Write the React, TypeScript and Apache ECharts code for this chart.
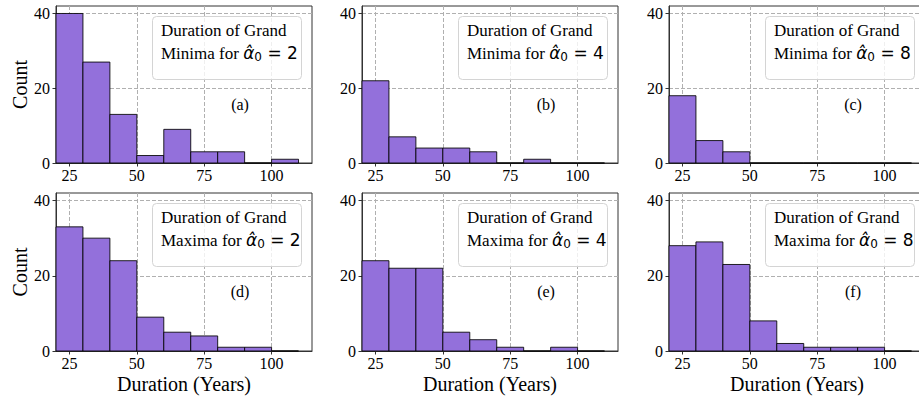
import React, { useEffect, useRef } from 'react';
import * as echarts from 'echarts';

// ---- data ----
const binEdges = [20, 30, 40, 50, 60, 70, 80, 90, 100, 110];
const minimaAlpha2 = [40, 27, 13, 2, 9, 3, 3, 0, 1];
const minimaAlpha4 = [22, 7, 4, 4, 3, 0, 1, 0, 0];
const minimaAlpha8 = [18, 6, 3, 0, 0, 0, 0, 0, 0];
const maximaAlpha2 = [33, 30, 24, 9, 5, 4, 1, 1, 0];
const maximaAlpha4 = [24, 22, 22, 5, 3, 1, 0, 1, 0];
const maximaAlpha8 = [28, 29, 23, 8, 2, 1, 1, 1, 0];
const panelCounts = [minimaAlpha2, minimaAlpha4, minimaAlpha8, maximaAlpha2, maximaAlpha4, maximaAlpha8];
const panelKinds = ['Minima', 'Minima', 'Minima', 'Maxima', 'Maxima', 'Maxima'];
const alphaValues = ['2', '4', '8', '2', '4', '8'];
const panelTags = ['(a)', '(b)', '(c)', '(d)', '(e)', '(f)'];
const titleLine1 = 'Duration of Grand';
const xTicks = [25, 50, 75, 100];
const yTicks = [0, 20, 40];
const xAxisName = 'Duration (Years)';
const yAxisName = 'Count';

// ---- layout ----
const LEFTS = [56, 362, 669];
const TOPS = [6, 193];
const HEIGHTS = [157, 158];
const WIDTH = 256;
const SERIF = "'Liberation Serif', 'Times New Roman', 'DejaVu Serif', serif";
const SANS = "'DejaVu Sans', sans-serif";
const AXIS_COLOR = '#333333';

export default function App() {
  const ref = useRef<HTMLDivElement>(null);

  useEffect(() => {
    if (!ref.current) return;
    const chart = echarts.init(ref.current, undefined, { renderer: 'svg' });

    const grids: any[] = [];
    const xAxes: any[] = [];
    const yAxes: any[] = [];
    const series: any[] = [];
    const graphics: any[] = [];

    for (let i = 0; i < 6; i++) {
      const row = Math.floor(i / 3);
      const col = i % 3;
      const L = LEFTS[col];
      const T = TOPS[row];
      const H = HEIGHTS[row];
      grids.push({
        left: L, top: T, width: WIDTH, height: H,
        show: true, borderColor: AXIS_COLOR, borderWidth: 1, backgroundColor: 'transparent',
      });
      xAxes.push({
        gridIndex: i, type: 'value', min: 20, max: 115,
        axisLine: { show: true, onZero: false, lineStyle: { color: AXIS_COLOR, width: 1 } },
        axisTick: { show: true, customValues: xTicks, length: 3.5, lineStyle: { color: AXIS_COLOR } },
        axisLabel: { show: true, customValues: xTicks, fontFamily: SERIF, fontSize: 16, color: '#000', margin: 4 },
        splitLine: { show: true, lineStyle: { color: '#b0b0b0', type: [4, 2], width: 1 } },
        name: row === 1 ? xAxisName : '',
        nameLocation: 'middle', nameGap: 23,
        nameTextStyle: { fontFamily: SERIF, fontSize: 20, color: '#000' },
      });
      yAxes.push({
        gridIndex: i, type: 'value', min: 0, max: 42,
        axisLine: { show: true, lineStyle: { color: AXIS_COLOR, width: 1 } },
        axisTick: { show: true, customValues: yTicks, length: 3.5, lineStyle: { color: AXIS_COLOR } },
        axisLabel: { show: true, customValues: yTicks, fontFamily: SERIF, fontSize: 16, color: '#000', margin: 6 },
        splitLine: { show: true, lineStyle: { color: '#b0b0b0', type: [4, 2], width: 1 } },
        name: col === 0 ? yAxisName : '',
        nameLocation: 'middle', nameGap: 25, nameRotate: 90,
        nameTextStyle: { fontFamily: SERIF, fontSize: 20, color: '#000' },
      });
      const counts = panelCounts[i];
      series.push({
        type: 'custom', xAxisIndex: i, yAxisIndex: i, z: 3,
        data: counts.map((c, k) => [binEdges[k], binEdges[k + 1], c]),
        encode: { x: [0, 1], y: 2 },
        renderItem: (params: any, api: any) => {
          const x0 = api.value(0);
          const x1 = api.value(1);
          const c = api.value(2);
          const p0 = api.coord([x0, c]);
          const p1 = api.coord([x1, 0]);
          return {
            type: 'rect',
            shape: { x: p0[0], y: p0[1], width: p1[0] - p0[0], height: p1[1] - p0[1] },
            style: { fill: '#9370DB', stroke: 'rgba(0,0,0,0.85)', lineWidth: 1 },
          };
        },
      });

      // legend-like title box
      graphics.push({
        type: 'rect', z: 10,
        shape: { x: L + 96.5, y: T + 10.5, width: 149, height: 63, r: 4 },
        style: { fill: 'rgba(255,255,255,0.8)', stroke: '#d4d4d4', lineWidth: 1 },
      });
      graphics.push({
        type: 'text', z: 11, x: L + 105, y: T + 24.5,
        style: { text: titleLine1, fontFamily: SERIF, fontSize: 17, fill: '#000', verticalAlign: 'middle', align: 'left' },
      });
      graphics.push({
        type: 'text', z: 11, x: L + 105, y: T + 47,
        style: {
          text: `{t|${panelKinds[i]} for }{a|\u03B1\u0302}{s|0}{e| = ${alphaValues[i]}}`,
          verticalAlign: 'middle', align: 'left', fill: '#000',
          rich: {
            t: { fontFamily: SERIF, fontSize: 17, lineHeight: 20, fill: '#000' },
            a: { fontFamily: SANS, fontStyle: 'italic', fontSize: 17, lineHeight: 20, fill: '#000' },
            s: { fontFamily: SANS, fontSize: 12, lineHeight: 14, verticalAlign: 'bottom', fill: '#000' },
            e: { fontFamily: SANS, fontSize: 17, lineHeight: 20, fill: '#000' },
          },
        },
      });
      graphics.push({
        type: 'text', z: 11, x: L + 184, y: T + 98,
        style: { text: panelTags[i], fontFamily: SERIF, fontSize: 16, fill: '#000', verticalAlign: 'middle', align: 'center' },
      });
    }

    chart.setOption({
      animation: false,
      backgroundColor: '#fff',
      grid: grids,
      xAxis: xAxes,
      yAxis: yAxes,
      series,
      graphic: graphics,
    });

    return () => chart.dispose();
  }, []);

  return (
    <div style={{ position: 'fixed', left: 0, top: 0, width: 919, height: 398, overflow: 'hidden', background: '#fff' }}>
      <div ref={ref} style={{ width: 930, height: 398 }} />
    </div>
  );
}
